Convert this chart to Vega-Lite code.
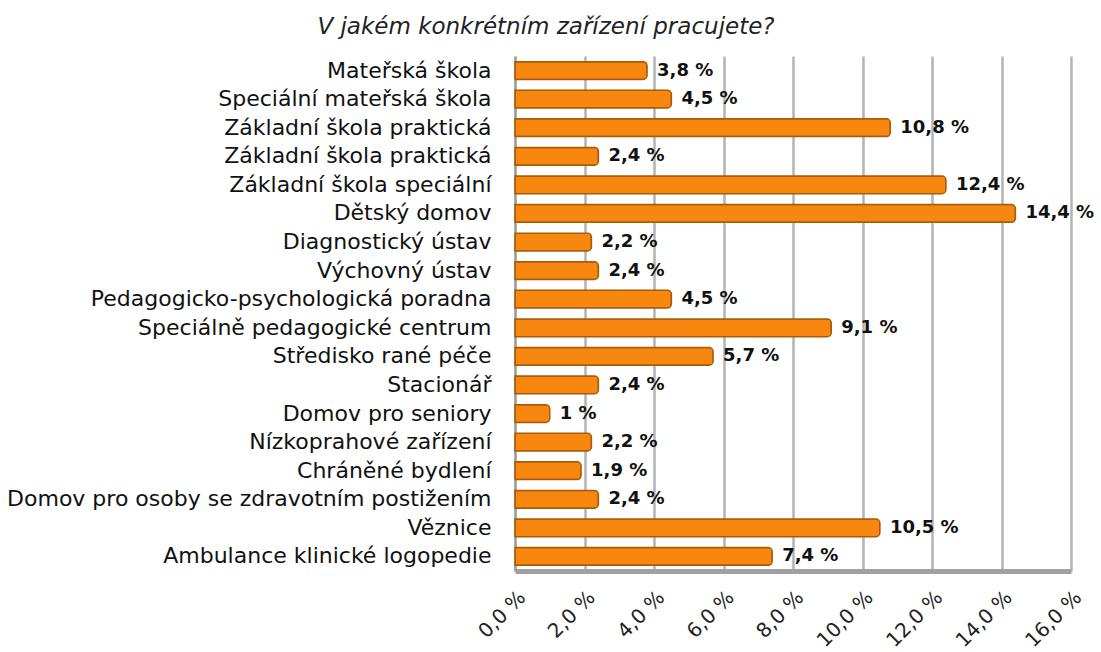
{
  "$schema": "https://vega.github.io/schema/vega-lite/v6.json",
  "autosize": {"type": "none"},
  "width": 556,
  "height": 515,
  "padding": {"left": 515, "top": 56, "right": 30, "bottom": 81},
  "background": "white",
  "title": {
    "text": "V jakém konkrétním zařízení pracujete?",
    "font": "DejaVu Sans",
    "fontSize": 23,
    "fontStyle": "italic",
    "fontWeight": "normal",
    "color": "#222222",
    "anchor": "middle",
    "dx": -247,
    "offset": 17
  },
  "data": {
    "values": [
      {"k": "Mateřská škola", "v": 3.8, "t": "3,8 %"},
      {"k": "Speciální mateřská škola", "v": 4.5, "t": "4,5 %"},
      {"k": "Základní škola praktická", "v": 10.8, "t": "10,8 %"},
      {"k": "Základní škola praktická\u200b", "v": 2.4, "t": "2,4 %"},
      {"k": "Základní škola speciální", "v": 12.4, "t": "12,4 %"},
      {"k": "Dětský domov", "v": 14.4, "t": "14,4 %"},
      {"k": "Diagnostický ústav", "v": 2.2, "t": "2,2 %"},
      {"k": "Výchovný ústav", "v": 2.4, "t": "2,4 %"},
      {"k": "Pedagogicko-psychologická poradna", "v": 4.5, "t": "4,5 %"},
      {"k": "Speciálně pedagogické centrum", "v": 9.1, "t": "9,1 %"},
      {"k": "Středisko rané péče", "v": 5.7, "t": "5,7 %"},
      {"k": "Stacionář", "v": 2.4, "t": "2,4 %"},
      {"k": "Domov pro seniory", "v": 1, "t": "1 %"},
      {"k": "Nízkoprahové zařízení", "v": 2.2, "t": "2,2 %"},
      {"k": "Chráněné bydlení", "v": 1.9, "t": "1,9 %"},
      {"k": "Domov pro osoby se zdravotním postižením", "v": 2.4, "t": "2,4 %"},
      {"k": "Věznice", "v": 10.5, "t": "10,5 %"},
      {"k": "Ambulance klinické logopedie", "v": 7.4, "t": "7,4 %"}
    ]
  },
  "encoding": {
    "y": {
      "field": "k",
      "type": "nominal",
      "sort": null,
      "scale": {"paddingInner": 0.38, "paddingOuter": 0.2},
      "axis": {
        "title": null,
        "labelFont": "DejaVu Sans",
        "labelFontSize": 22,
        "labelColor": "#111111",
        "labelPadding": 24,
        "labelLimit": 0,
        "ticks": false,
        "domain": true,
        "domainColor": "#9a9a9a",
        "domainWidth": 2,
        "grid": false
      }
    },
    "x": {
      "field": "v",
      "type": "quantitative",
      "scale": {"domain": [0, 16], "nice": false},
      "axis": {
        "title": null,
        "values": [0, 2, 4, 6, 8, 10, 12, 14, 16],
        "labelExpr": "replace(format(datum.value, '.1f'), '.', ',') + ' %'",
        "labelAngle": -45,
        "labelFont": "DejaVu Sans",
        "labelFontSize": 20,
        "labelColor": "#222222",
        "labelPadding": 16,
        "ticks": false,
        "domainColor": "#a0a0a0",
        "domainWidth": 5,
        "grid": true,
        "gridColor": "#b3b3b3",
        "gridWidth": 2.5
      }
    }
  },
  "layer": [
    {
      "mark": {"type": "bar", "color": "#F7870F", "stroke": "#A85C08", "strokeWidth": 1.5, "cornerRadiusEnd": 4}
    },
    {
      "mark": {"type": "text", "align": "left", "baseline": "middle", "dx": 10, "font": "DejaVu Sans", "fontSize": 18, "fontWeight": "bold", "color": "#111111"},
      "encoding": {"text": {"field": "t"}}
    }
  ],
  "config": {"view": {"stroke": null}}
}
